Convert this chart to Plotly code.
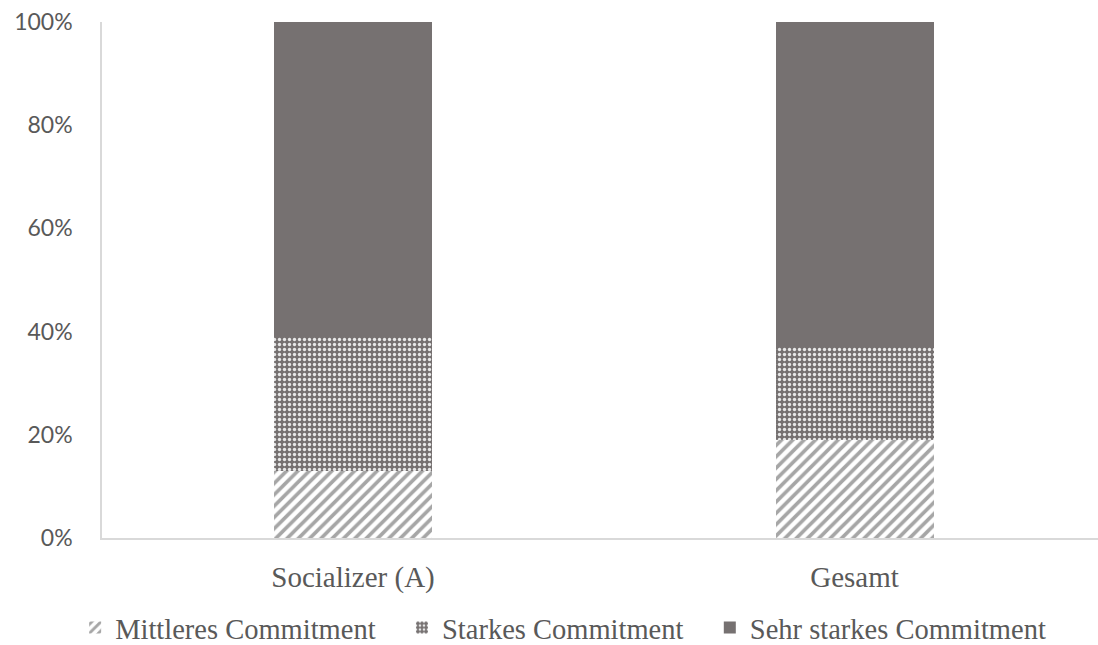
import plotly.graph_objects as go

categories = ["Socializer (A)", "Gesamt"]
series_names = ["Mittleres Commitment", "Starkes Commitment", "Sehr starkes Commitment"]
mittleres = [13, 19]
starkes = [26, 18]
sehr_starkes = [61, 63]
tick_vals = [0, 20, 40, 60, 80, 100]
tick_text = ["0%", "20%", "40%", "60%", "80%", "100%"]

dark = "#767171"
bar_w = 0.315
pad = "\u00a0\u00a0\u00a0"  # extra room between legend entries

fig = go.Figure()
fig.add_trace(go.Bar(
    x=categories, y=mittleres, name=series_names[0] + pad, width=bar_w,
    marker=dict(color="white", line=dict(width=0),
                pattern=dict(shape="/", bgcolor="white", fgcolor="#a6a6a6",
                             size=8, solidity=0.45, fillmode="replace")),
))
fig.add_trace(go.Bar(
    x=categories, y=starkes, name=series_names[1] + pad, width=bar_w,
    marker=dict(color=dark, line=dict(width=0),
                pattern=dict(shape=".", bgcolor=dark, fgcolor="#e8e8e8",
                             size=5, solidity=0.35, fillmode="replace")),
))
fig.add_trace(go.Bar(
    x=categories, y=sehr_starkes, name=series_names[2], width=bar_w,
    marker=dict(color=dark, line=dict(width=0)),
))

fig.update_layout(
    barmode="stack",
    width=1098, height=645,
    margin=dict(l=102, r=0, t=22, b=107, autoexpand=False),
    paper_bgcolor="white", plot_bgcolor="white",
    showlegend=True,
    legend=dict(orientation="h", x=0.463, xanchor="center", y=-0.125, yanchor="top",
                font=dict(family="Liberation Serif", size=28.5, color="#595959"),
                traceorder="normal", itemwidth=30),
    xaxis=dict(
        range=[-0.5005, 1.4855], showgrid=False, ticks="", automargin=False,
        showline=True, linecolor="#d9d9d9", linewidth=1.5,
        ticklabelstandoff=12,
        tickfont=dict(family="Liberation Serif", size=29, color="#595959"),
    ),
    yaxis=dict(
        range=[0, 100], tickvals=tick_vals, ticktext=tick_text, automargin=False,
        showgrid=False, ticks="", zeroline=False,
        showline=True, linecolor="#d9d9d9", linewidth=1.5,
        ticklabelstandoff=23,
        tickfont=dict(family="Lato", size=23, color="#595959"),
    ),
)

fig.write_html("out.html")
